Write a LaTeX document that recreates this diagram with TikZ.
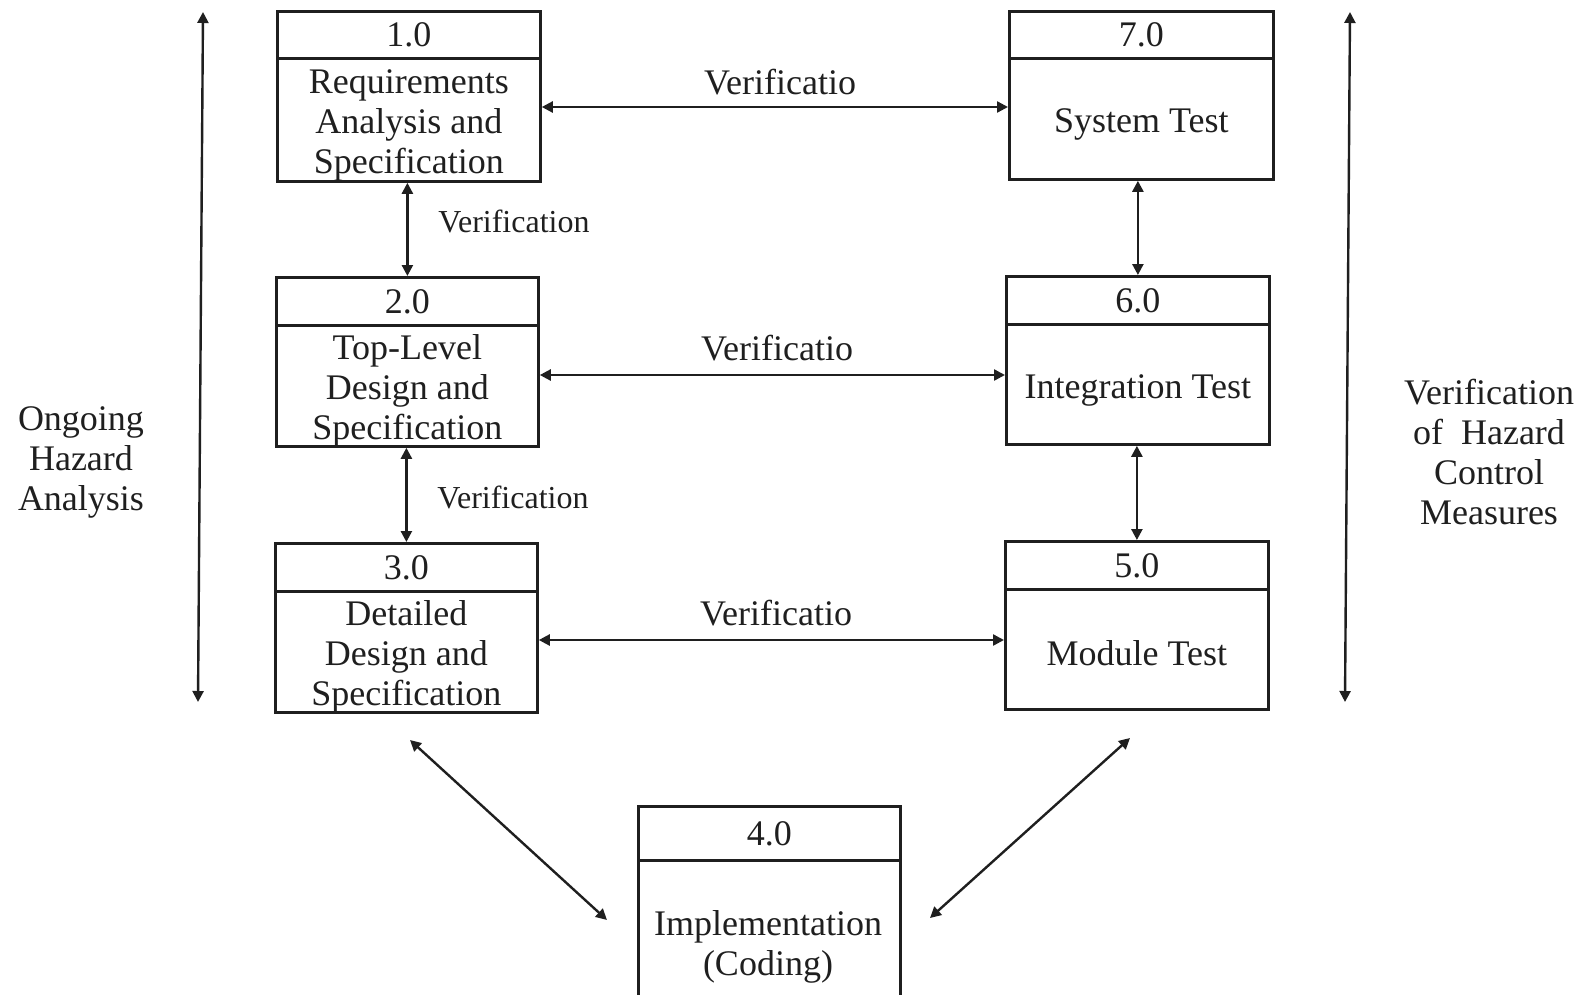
\documentclass[tikz,border=0pt]{standalone}
\usepackage{fontspec}
\setmainfont{Liberation Serif}
\usetikzlibrary{arrows.meta}
\begin{document}
\begin{tikzpicture}[x=1pt,y=-1pt,
  every node/.style={font=\fontsize{36}{40}\selectfont, text=black!88},
  hdr/.style={draw=black!88, line width=2.8pt, anchor=north west, inner sep=0pt, minimum width=#1},
  body/.style={draw=black!88, line width=2.8pt, anchor=north west, inner sep=0pt, minimum width=#1},
  btext/.style={inner sep=0pt, align=center},
  arr/.style={draw=black!88, line width=2.4pt, {Triangle[length=11pt,width=11pt]}-{Triangle[length=11pt,width=11pt]}},
  lbl/.style={inner sep=0pt},
  small/.style={inner sep=0pt, font=\fontsize{32}{38}\selectfont},
  side/.style={inner sep=0pt, align=center}
]
\useasboundingbox (0,0) rectangle (1591,994);
\clip (0,0) rectangle (1591,994);
\fill[white] (0,0) rectangle (1591,994);

% Box 1
\node[hdr=263, minimum height=47] (h1) at (276,10) {1.0};
\node[body=263, minimum height=123] (b1) at (276,57) {};
\node[btext] (t1) at ([yshift=-6pt]b1.center) {Requirements\\Analysis and\\Specification};
% Box 2
\node[hdr=262, minimum height=48] (h2) at (275,276) {2.0};
\node[body=262, minimum height=121] (b2) at (275,324) {};
\node[btext] (t2) at ([yshift=-5pt]b2.center) {Top-Level\\Design and\\Specification};
% Box 3
\node[hdr=262, minimum height=48] (h3) at (274,542) {3.0};
\node[body=262, minimum height=121] (b3) at (274,590) {};
\node[btext] (t3) at ([yshift=-5pt]b3.center) {Detailed\\Design and\\Specification};
% Box 7
\node[hdr=264, minimum height=47] (h7) at (1008,10) {7.0};
\node[body=264, minimum height=121] (b7) at (1008,57) {};
\node[btext] (t7) at ([yshift=-6pt]b7.center) {System Test};
% Box 6
\node[hdr=263, minimum height=48] (h6) at (1005,275) {6.0};
\node[body=263, minimum height=120] (b6) at (1005,323) {};
\node[btext] (t6) at ([yshift=-6pt]b6.center) {Integration Test};
% Box 5
\node[hdr=263, minimum height=48] (h5) at (1004,540) {5.0};
\node[body=263, minimum height=120] (b5) at (1004,588) {};
\node[btext] (t5) at ([yshift=-4pt]b5.center) {Module Test};
% Box 4
\node[hdr=262, minimum height=54] (h4) at (637,805) {4.0};
\node[body=262, minimum height=200] (b4) at (637,859) {};
\node[btext] (t4) at (768,947) {Implementation\\(Coding)};

% horizontal verification arrows
\draw[arr] (b1.east |- 0,107) -- (b7.west |- 0,107);
\draw[arr] (b2.east |- 0,375) -- (b6.west |- 0,375);
\draw[arr] (b3.east |- 0,640) -- (b5.west |- 0,640);
\node[lbl] (v1) at (780,82) {Verificatio};
\node[lbl] (v2) at (777,348) {Verificatio};
\node[lbl] (v3) at (776,613) {Verificatio};

% vertical arrows
\draw[arr] (h2.north |- b1.south) -- (h2.north);
\draw[arr] (h3.north |- b2.south) -- (h3.north);
\draw[arr] (h6.north |- b7.south) -- (h6.north);
\draw[arr] (h5.north |- b6.south) -- (h5.north);
\node[small] (v4) at (514,221) {Verification};
\node[small] (v5) at (513,497) {Verification};

% diagonal arrows
\coordinate (d1a) at (410,740);
\coordinate (d1b) at (607,920);
\coordinate (d2a) at (1130,738);
\coordinate (d2b) at (930,918);
\draw[arr] (d1a) -- (d1b);
\draw[arr] (d2a) -- (d2b);

% side arrows
\coordinate (la) at (203,12);
\coordinate (lb) at (198,702);
\coordinate (ra) at (1350,12);
\coordinate (rb) at (1345,702);
\draw[arr] (la) -- (lb);
\draw[arr] (ra) -- (rb);
\node[side] (lt) at (81,462) {Ongoing\\Hazard\\Analysis};
\node[side] (rt) at (1489,452) {Verification\\of~ Hazard\\Control\\Measures};
\end{tikzpicture}
\end{document}
